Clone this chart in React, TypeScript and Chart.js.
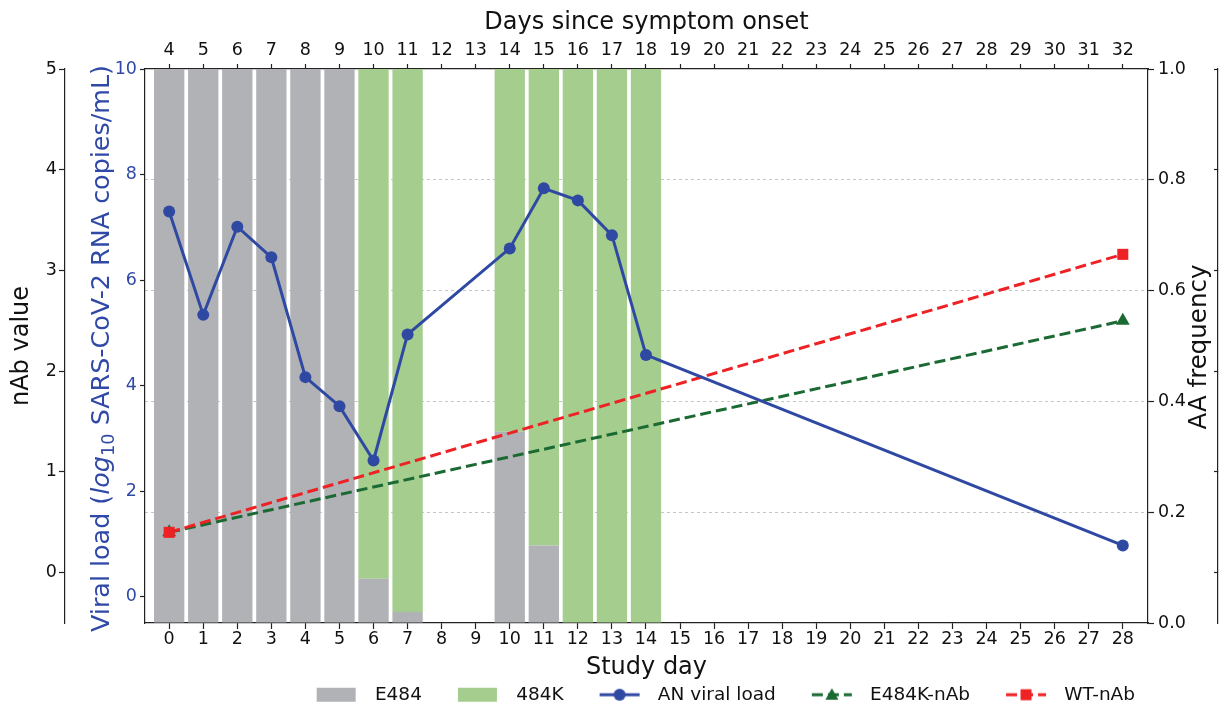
import React, { useEffect, useRef } from 'react';
import { Chart, registerables } from 'chart.js';

Chart.register(...registerables);

// ---- data ----
const studyDays = [0, 1, 2, 3, 4, 5, 6, 7, 8, 9, 10, 11, 12, 13, 14, 15, 16, 17, 18, 19, 20, 21, 22, 23, 24, 25, 26, 27, 28];
const onsetDays = [4, 5, 6, 7, 8, 9, 10, 11, 12, 13, 14, 15, 16, 17, 18, 19, 20, 21, 22, 23, 24, 25, 26, 27, 28, 29, 30, 31, 32];

const barDays = [0, 1, 2, 3, 4, 5, 6, 7, 10, 11, 12, 13, 14];
const e484Freq = [1, 1, 1, 1, 1, 1, 0.08, 0.02, 0.345, 0.14, 0, 0, 0];
const k484Freq = [0, 0, 0, 0, 0, 0, 0.92, 0.98, 0.655, 0.86, 1, 1, 1];

const viralDays = [0, 1, 2, 3, 4, 5, 6, 7, 10, 11, 12, 13, 14, 28];
const viralLoad = [7.3, 5.34, 7.01, 6.43, 4.16, 3.61, 2.58, 4.97, 6.6, 7.74, 7.51, 6.85, 4.58, 0.97];

const nAbDays = [0, 28];
const e484kNab = [0.4, 2.5];
const wtNab = [0.4, 3.16];

const viralTicks = [0, 2, 4, 6, 8, 10];
const nAbTicks = [0, 1, 2, 3, 4, 5];
const aaTicks = [0, 0.2, 0.4, 0.6, 0.8, 1.0];

const seriesLabels = ['E484', '484K', 'AN viral load', 'E484K-nAb', 'WT-nAb'];

// ---- style ----
const FONT = "'DejaVu Sans', sans-serif";
const AX = '#222222';
const TXT = '#111111';
const GRAY = '#b1b2b6';
const GREEN = '#a4cd8e';
const BLUE = '#2f49a3';
const BLUE_TXT = '#3049a6';
const RED = '#ee2124';
const DGREEN = '#1b6a33';

function makeIcon(kind: string, color: string, marker?: string, dashed?: boolean) {
  const c = document.createElement('canvas');
  c.width = 72;
  c.height = 20;
  const g = c.getContext('2d') as CanvasRenderingContext2D;
  const x0 = 23, x1 = 63, cy = 10, mx = 43;
  if (kind === 'box') {
    g.fillStyle = color;
    g.fillRect(x0, cy - 7, 39, 14);
    return c;
  }
  g.strokeStyle = color;
  g.lineWidth = 3;
  if (dashed) g.setLineDash([11, 5]);
  g.beginPath();
  g.moveTo(x0, cy);
  g.lineTo(x1, cy);
  g.stroke();
  g.setLineDash([]);
  g.fillStyle = color;
  g.beginPath();
  if (marker === 'circle') {
    g.arc(mx, cy, 6, 0, Math.PI * 2);
  } else if (marker === 'rect') {
    g.rect(mx - 5.5, cy - 5.5, 11, 11);
  } else if (marker === 'triangle') {
    g.moveTo(mx, cy - 6.5);
    g.lineTo(mx + 6.5, cy + 5);
    g.lineTo(mx - 6.5, cy + 5);
    g.closePath();
  }
  g.fill();
  return c;
}

const titlePlugin = {
  id: 'customAxisTitles',
  afterDraw(chart: any) {
    const ctx = chart.ctx as CanvasRenderingContext2D;
    const area = chart.chartArea;
    const yV = chart.scales.yV;
    const yA = chart.scales.yA;
    const cy = (area.top + area.bottom) / 2;

    // viral load title with italic log and subscript 10
    const segs = [
      { t: 'Viral load (', f: `normal 25.4px ${FONT}`, dy: 0 },
      { t: 'log', f: `italic 25.4px ${FONT}`, dy: 0 },
      { t: '10', f: `normal 17.8px ${FONT}`, dy: 5 },
      { t: ' SARS-CoV-2 RNA copies/mL)', f: `normal 25.4px ${FONT}`, dy: 0 },
    ];
    ctx.save();
    ctx.translate(yV.left + 43.5, cy + 2.5);
    ctx.rotate(-Math.PI / 2);
    ctx.textBaseline = 'alphabetic';
    ctx.textAlign = 'left';
    ctx.fillStyle = BLUE_TXT;
    let total = 0;
    const widths: number[] = [];
    for (const s of segs) {
      ctx.font = s.f;
      const w = ctx.measureText(s.t).width;
      widths.push(w);
      total += w;
    }
    let x = -total / 2;
    segs.forEach((s, i) => {
      ctx.font = s.f;
      ctx.fillText(s.t, x, s.dy);
      x += widths[i];
    });
    ctx.restore();

    // right axis title, reading bottom to top
    ctx.save();
    ctx.translate(yA.left + 58, cy + 1);
    ctx.rotate(-Math.PI / 2);
    ctx.textBaseline = 'alphabetic';
    ctx.textAlign = 'center';
    ctx.fillStyle = TXT;
    ctx.font = `normal 24.5px ${FONT}`;
    ctx.fillText('AA frequency', 0, 0);
    ctx.restore();
  },
};

export default function App() {
  const ref = useRef<HTMLCanvasElement>(null);

  useEffect(() => {
    const icons = [
      makeIcon('box', GRAY),
      makeIcon('box', GREEN),
      makeIcon('line', BLUE, 'circle', false),
      makeIcon('line', DGREEN, 'triangle', true),
      makeIcon('line', RED, 'rect', true),
    ];

    const xMin = -0.71;
    const xMax = 28.74;
    const tickFont = { family: FONT, size: 17.5 };
    const titleFont = { family: FONT, size: 24 };

    const chart = new Chart(ref.current as HTMLCanvasElement, {
      type: 'bar',
      data: {
        datasets: [
          {
            type: 'bar',
            label: seriesLabels[0],
            data: barDays.map((d, i) => ({ x: d, y: e484Freq[i] })),
            xAxisID: 'x',
            yAxisID: 'yA',
            backgroundColor: GRAY,
            borderWidth: 0,
            grouped: false,
            barPercentage: 0.89,
            categoryPercentage: 1,
            order: 4,
          },
          {
            type: 'bar',
            label: seriesLabels[1],
            data: barDays.map((d, i) => ({ x: d, y: [e484Freq[i], e484Freq[i] + k484Freq[i]] })),
            xAxisID: 'x',
            yAxisID: 'yA',
            backgroundColor: GREEN,
            borderWidth: 0,
            grouped: false,
            barPercentage: 0.89,
            categoryPercentage: 1,
            order: 5,
          },
          {
            type: 'line',
            label: seriesLabels[2],
            data: viralDays.map((d, i) => ({ x: d, y: viralLoad[i] })),
            xAxisID: 'x',
            yAxisID: 'yV',
            borderColor: BLUE,
            backgroundColor: BLUE,
            borderWidth: 3,
            pointRadius: 6,
            pointBackgroundColor: BLUE,
            pointBorderColor: BLUE,
            pointBorderWidth: 0,
            tension: 0,
            fill: false,
            order: 1,
          },
          {
            type: 'line',
            label: seriesLabels[3],
            data: nAbDays.map((d, i) => ({ x: d, y: e484kNab[i] })),
            xAxisID: 'x',
            yAxisID: 'yN',
            borderColor: DGREEN,
            backgroundColor: DGREEN,
            borderWidth: 3,
            borderDash: [11, 5],
            pointStyle: 'triangle',
            pointRadius: 8,
            pointBackgroundColor: DGREEN,
            pointBorderColor: DGREEN,
            pointBorderWidth: 0,
            fill: false,
            order: 3,
          },
          {
            type: 'line',
            label: seriesLabels[4],
            data: nAbDays.map((d, i) => ({ x: d, y: wtNab[i] })),
            xAxisID: 'x',
            yAxisID: 'yN',
            borderColor: RED,
            backgroundColor: RED,
            borderWidth: 3,
            borderDash: [11, 5],
            pointStyle: 'rect',
            pointRadius: 7.8,
            pointBackgroundColor: RED,
            pointBorderColor: RED,
            pointBorderWidth: 0,
            fill: false,
            order: 2,
          },
        ],
      } as any,
      options: {
        animation: false,
        responsive: true,
        maintainAspectRatio: false,
        events: [],
        layout: { padding: 0 },
        scales: {
          x: {
            type: 'linear',
            position: 'bottom',
            offset: false,
            min: xMin,
            max: xMax,
            afterBuildTicks: (s: any) => {
              s.ticks = studyDays.map((v) => ({ value: v }));
            },
            ticks: {
              font: tickFont,
              color: TXT,
              padding: 0,
              autoSkip: false,
              maxRotation: 0,
              callback: (v: any) => String(v),
            },
            grid: { offset: false, drawOnChartArea: false, tickLength: 6, tickColor: AX, tickWidth: 1.2 },
            border: { color: AX, width: 1.2 },
            title: {
              display: true,
              text: 'Study day',
              font: titleFont,
              color: TXT,
              padding: { top: 0, bottom: -10 },
            },
            afterFit: (s: any) => {
              s.height = 49.5;
            },
          },
          x2: {
            type: 'linear',
            position: 'top',
            offset: false,
            min: xMin,
            max: xMax,
            afterBuildTicks: (s: any) => {
              s.ticks = studyDays.map((v) => ({ value: v }));
            },
            ticks: {
              font: tickFont,
              color: TXT,
              padding: 3.5,
              autoSkip: false,
              maxRotation: 0,
              callback: (v: any) => String(onsetDays[studyDays.indexOf(v)]),
            },
            grid: { offset: false, drawOnChartArea: false, tickLength: 5, tickColor: AX, tickWidth: 1.2 },
            border: { color: AX, width: 1.2 },
            title: {
              display: true,
              text: 'Days since symptom onset',
              font: titleFont,
              color: TXT,
              padding: { top: 8.6, bottom: 0 },
            },
            afterFit: (s: any) => {
              s.height = 69;
            },
          },
          yV: {
            type: 'linear',
            position: 'left',
            min: -0.5,
            max: 10,
            afterBuildTicks: (s: any) => {
              s.ticks = viralTicks.map((v) => ({ value: v }));
            },
            ticks: { font: tickFont, color: BLUE_TXT, padding: 3 },
            grid: { drawOnChartArea: false, tickLength: 5, tickColor: AX, tickWidth: 1.2 },
            border: { color: AX, width: 1.2 },
            title: { display: false },
            afterFit: (s: any) => {
              s.width = 80;
            },
          },
          yN: {
            type: 'linear',
            position: 'left',
            min: -0.5,
            max: 5,
            afterBuildTicks: (s: any) => {
              s.ticks = nAbTicks.map((v) => ({ value: v }));
            },
            ticks: { font: tickFont, color: TXT, padding: 2 },
            grid: { drawOnChartArea: false, tickLength: 6, tickColor: AX, tickWidth: 1.2 },
            border: { color: AX, width: 1.2 },
            title: {
              display: true,
              text: 'nAb value',
              font: titleFont,
              color: TXT,
              padding: { top: 7.6, bottom: 0 },
            },
            afterFit: (s: any) => {
              s.width = 65;
            },
          },
          yA: {
            type: 'linear',
            position: 'right',
            min: 0,
            max: 1,
            afterBuildTicks: (s: any) => {
              s.ticks = aaTicks.map((v) => ({ value: v }));
            },
            ticks: {
              font: tickFont,
              color: TXT,
              padding: 4,
              callback: (v: any) => Number(v).toFixed(1),
            },
            grid: {
              drawOnChartArea: true,
              color: (c: any) =>
                c.tick && (c.tick.value === 0 || c.tick.value === 1) ? 'rgba(0,0,0,0)' : '#c6c6c6',
              lineWidth: 1,
              tickLength: 6,
              tickColor: AX,
              tickWidth: 1.2,
            },
            border: { color: AX, width: 1.2, dash: [3, 3] },
            title: { display: false },
            afterFit: (s: any) => {
              s.width = 70;
            },
          },
          y4: {
            type: 'linear',
            position: 'right',
            min: -0.5,
            max: 5,
            afterBuildTicks: (s: any) => {
              s.ticks = nAbTicks.map((v) => ({ value: v }));
            },
            ticks: { display: false },
            grid: { drawOnChartArea: false, tickLength: -4, tickColor: AX, tickWidth: 1.2 },
            border: { color: AX, width: 1.2 },
            title: { display: false },
            afterFit: (s: any) => {
              s.width = 3;
            },
          },
        },
        plugins: {
          legend: {
            display: true,
            position: 'bottom',
            align: 'end',
            fullSize: false,
            labels: {
              usePointStyle: true,
              pointStyleWidth: 72,
              padding: 13,
              color: TXT,
              font: { family: FONT, size: 18.5 },
              generateLabels: (ch: any) =>
                ch.data.datasets.map((ds: any, i: number) => ({
                  text: ds.label,
                  pointStyle: icons[i],
                  fillStyle: 'rgba(0,0,0,0)',
                  strokeStyle: 'rgba(0,0,0,0)',
                  fontColor: TXT,
                  lineWidth: 0,
                  hidden: false,
                  datasetIndex: i,
                })),
            },
          },
          tooltip: { enabled: false },
          title: { display: false },
        },
      } as any,
      plugins: [titlePlugin],
    });

    return () => {
      chart.destroy();
    };
  }, []);

  return (
    <div
      style={{
        position: 'fixed',
        left: 0,
        top: 0,
        width: 1221,
        height: 709,
        overflow: 'hidden',
        background: '#ffffff',
      }}
    >
      <div style={{ position: 'relative', width: 1221, height: 714 }}>
        <canvas ref={ref} />
      </div>
    </div>
  );
}
